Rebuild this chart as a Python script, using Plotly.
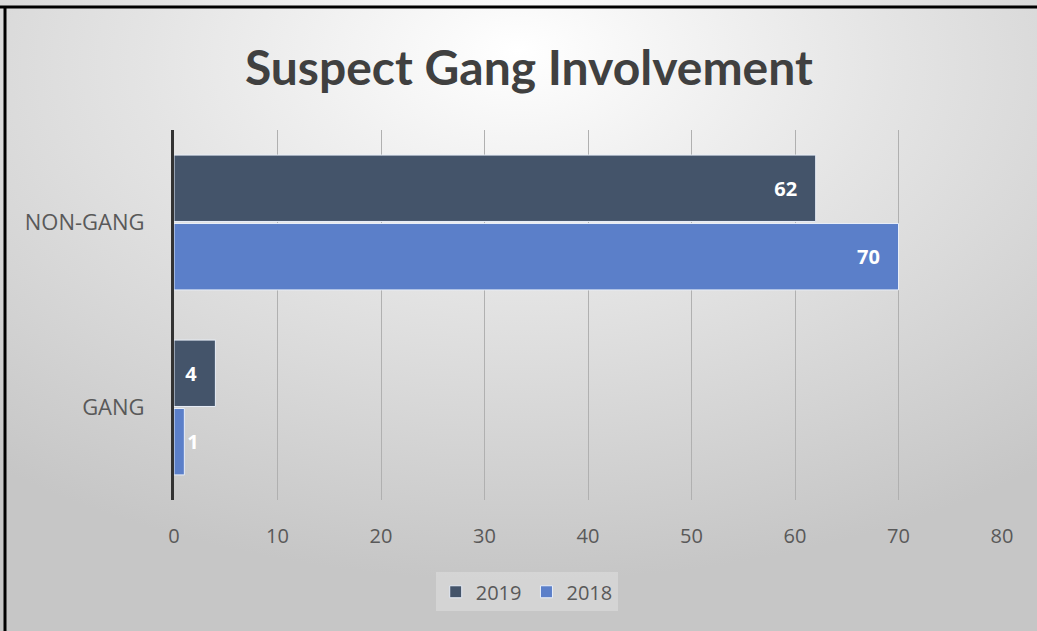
import plotly.graph_objects as go
import base64

categories = ["GANG", "NON-GANG"]
values_2019 = [4, 62]
values_2018 = [1, 70]
x_ticks = [0, 10, 20, 30, 40, 50, 60, 70, 80]
title_text = "Suspect Gang Involvement"

svg = """<svg xmlns='http://www.w3.org/2000/svg' width='1037' height='631' viewBox='0 0 1037 631' preserveAspectRatio='none'>
<defs><radialGradient id='g' cx='50%' cy='12%' r='80%' fx='50%' fy='8%'>
<stop offset='0%' stop-color='#ffffff'/><stop offset='45%' stop-color='#e4e4e4'/><stop offset='100%' stop-color='#c6c6c6'/>
</radialGradient></defs><rect width='1037' height='631' fill='url(#g)'/></svg>"""
bg_src = "data:image/svg+xml;base64," + base64.b64encode(svg.encode()).decode()

PAD = "&nbsp;&nbsp;&nbsp;"

fig = go.Figure()
fig.add_trace(go.Bar(
    y=categories, x=values_2018, name="2018", orientation="h",
    marker=dict(color="#5B7FC9", line=dict(color="#e8eef8", width=1)),
    text=[str(v) for v in values_2018[:1]] + [str(v) + PAD for v in values_2018[1:]],
    textposition=["outside", "inside"], insidetextanchor="end",
    textfont=dict(family="Open Sans", size=20, color="white", weight="bold"),
    cliponaxis=False,
))
fig.add_trace(go.Bar(
    y=categories, x=values_2019, name="2019", orientation="h",
    marker=dict(color="#44546A", line=dict(color="#e8eef8", width=1)),
    text=[str(v) + PAD for v in values_2019],
    textposition="inside", insidetextanchor="end",
    textfont=dict(family="Open Sans", size=20, color="white", weight="bold"),
    cliponaxis=False,
))

fig.update_layout(
    width=1037, height=631,
    barmode="group", bargap=0.26, bargroupgap=0.03,
    paper_bgcolor="#dedede", plot_bgcolor="rgba(0,0,0,0)",
    margin=dict(l=174, r=35, t=130, b=131),
    title=dict(text=title_text, x=0.51, xanchor="center", y=0.892, yanchor="middle",
               font=dict(family="Lato", size=48, color="#404040", weight="bold")),
    xaxis=dict(range=[0, 80], tickvals=x_ticks, showgrid=True, gridcolor="#b0b0b0", gridwidth=1,
               zeroline=False, showline=False, ticks="", ticklabelstandoff=22,
               tickfont=dict(family="Open Sans", size=20, color="#595959")),
    yaxis=dict(showline=True, linecolor="#333333", linewidth=3, ticks="", ticklabelstandoff=22,
               tickfont=dict(family="Open Sans", size=22, color="#595959"), showgrid=False),
    legend=dict(orientation="h", x=0.426, xanchor="center", y=-0.248, yanchor="middle",
                traceorder="reversed", bgcolor="rgba(255,255,255,0.25)",
                font=dict(family="Open Sans", size=20, color="#595959"), itemwidth=30),
    showlegend=True,
    images=[dict(source=bg_src, xref="paper", yref="paper", x=-174/828, y=1 + 130/370,
                 sizex=1037/828, sizey=631/370, xanchor="left", yanchor="top",
                 sizing="stretch", layer="below")],
    shapes=[
        dict(type="line", xref="paper", yref="paper", x0=-174/828, x1=1 + 35/828,
             y0=1 + 123/370, y1=1 + 123/370, line=dict(color="black", width=3)),
        dict(type="line", xref="paper", yref="paper", x0=-169/828, x1=-169/828,
             y0=1 + 124/370, y1=-131/370, line=dict(color="black", width=3)),
    ],
)

fig.write_html("out.html", config={"displayModeBar": False},
               post_script="document.body.style.margin='0';document.body.style.overflow='hidden';")
